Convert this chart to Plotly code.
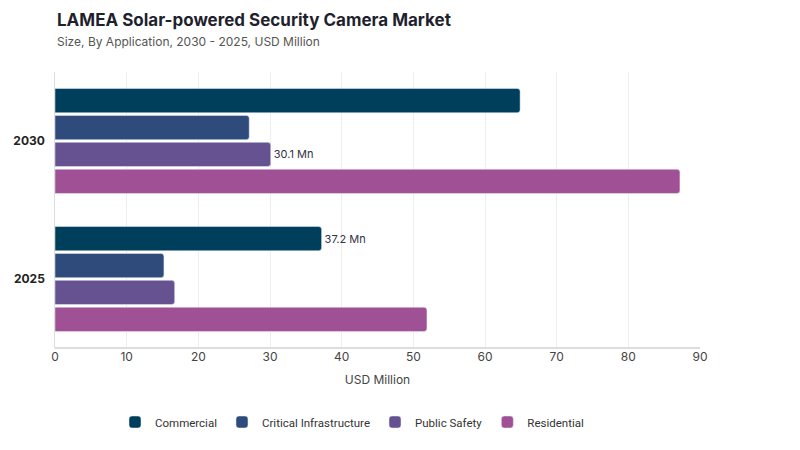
import plotly.graph_objects as go

years = ["2025", "2030"]
series = ["Commercial", "Critical Infrastructure", "Public Safety", "Residential"]
values = {
    "Commercial": [37.2, 64.9],
    "Critical Infrastructure": [15.2, 27.1],
    "Public Safety": [16.7, 30.1],
    "Residential": [51.9, 87.2],
}
labels = {
    "Commercial": ["37.2 Mn", ""],
    "Critical Infrastructure": ["", ""],
    "Public Safety": ["", "30.1 Mn"],
    "Residential": ["", ""],
}
colors = {
    "Commercial": "#003f5c",
    "Critical Infrastructure": "#2f4b7c",
    "Public Safety": "#665191",
    "Residential": "#a05195",
}
x_ticks = [0, 10, 20, 30, 40, 50, 60, 70, 80, 90]
title_text = "LAMEA Solar-powered Security Camera Market"
subtitle_text = "Size, By Application, 2030 - 2025, USD Million"

FONT = "Inter, Open Sans, sans-serif"

fig = go.Figure()
for s in reversed(series):
    fig.add_trace(go.Bar(
        name=s, y=years, x=values[s], orientation="h",
        marker=dict(color=colors[s]),
        text=labels[s], textposition="outside", cliponaxis=False,
        textfont=dict(size=11, color="#333344", family=FONT),
    ))

fig.update_layout(
    width=800, height=450,
    paper_bgcolor="white", plot_bgcolor="white",
    margin=dict(l=55, r=100, t=72, b=102),
    barmode="group", bargap=0.22, bargroupgap=0.1, barcornerradius=3,
    font=dict(family=FONT, color="#333"),
    legend=dict(
        orientation="h", x=0.44, xref="container", xanchor="center",
        y=0.03, yref="container", yanchor="bottom",
        traceorder="reversed", font=dict(size=11.5, color="#333", family="Roboto, Inter, sans-serif"),
        itemwidth=30,
    ),
    xaxis=dict(
        range=[0, 90], tickvals=x_ticks, showgrid=True, gridcolor="#eeeeee",
        zeroline=False, showline=False,
        tickfont=dict(size=12, color="#444"),
        title=dict(text="USD Million", font=dict(size=12, color="#444"), standoff=12),
    ),
    yaxis=dict(
        categoryorder="array", categoryarray=years,
        showline=True, linecolor="#dddddd", linewidth=1,
        tickfont=dict(size=12, color="#222"),
        tickprefix="<b>", ticksuffix="</b>  ",
    ),
)
fig.add_annotation(text="<b>" + title_text + "</b>", xref="paper", yref="paper",
                   x=0, y=1.188, xanchor="left", yanchor="middle", showarrow=False,
                   font=dict(size=17, color="#1f1f2e", family=FONT))
fig.add_annotation(text=subtitle_text, xref="paper", yref="paper",
                   x=0, y=1.112, xanchor="left", yanchor="middle", showarrow=False,
                   font=dict(size=12, color="#555", family=FONT))
fig.add_shape(type="line", xref="x", yref="paper", x0=0, x1=90, y0=0, y1=0,
              line=dict(color="#dddddd", width=2))

fig.write_html("out.html")
